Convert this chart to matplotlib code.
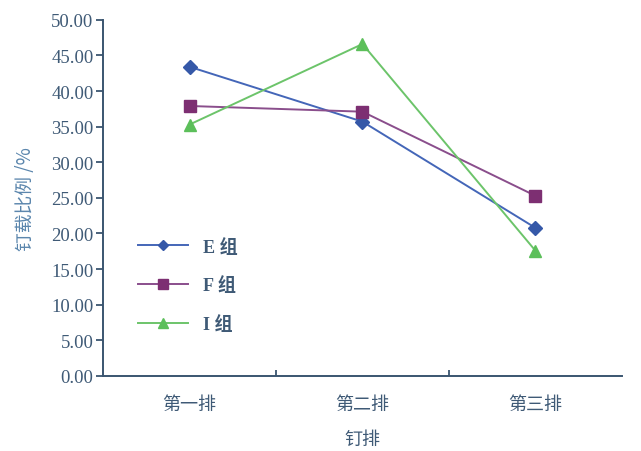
import matplotlib
matplotlib.use("Agg")
import matplotlib.pyplot as plt
import numpy as np

plt.rcParams['font.family'] = ['Liberation Serif', 'Noto Sans CJK SC', 'DejaVu Sans']

# data
rows = ['第一排', '第二排', '第三排']
e_vals = [43.4, 35.7, 20.8]
f_vals = [37.9, 37.1, 25.3]
i_vals = [35.3, 46.6, 17.6]
yticks = np.arange(0, 50.01, 5)

axis_col = '#3a5570'
text_col = '#3f5a76'
label_col = '#5b86ad'

fig = plt.figure(figsize=(6.41, 4.52), dpi=100)
ax = fig.add_axes([0.161, 0.166, 0.809, 0.788])

x = np.arange(len(rows))
ax.plot(x, e_vals, color='#4466b8', lw=1.4, marker='D', ms=7, mfc='#3558a8', mec='#3558a8', label='E 组')
ax.plot(x, f_vals, color='#8a4e8c', lw=1.4, marker='s', ms=9, mfc='#7d2f72', mec='#7d2f72', label='F 组')
ax.plot(x, i_vals, color='#6cc46a', lw=1.4, marker='^', ms=9, mfc='#5cbf5a', mec='#5cbf5a', label='I 组')

ax.set_xlim(-0.5, 2.5)
ax.set_ylim(0, 50)
ax.set_yticks(yticks)
ax.set_yticklabels([f'{v:.2f}' for v in yticks], fontsize=13.5, color=text_col)
ax.set_xticks(x)
ax.set_xticklabels(rows, fontsize=13, color=text_col, family=['Noto Sans CJK SC'])
ax.tick_params(axis='x', length=0, pad=14)
ax.tick_params(axis='y', length=5, width=1.3, color=axis_col, direction='out', pad=2)
ax.set_xticks([0.5, 1.5], minor=True)
ax.tick_params(axis='x', which='minor', length=4, width=1.3, color=axis_col, direction='in')

for s in ['top', 'right']:
    ax.spines[s].set_visible(False)
for s in ['left', 'bottom']:
    ax.spines[s].set_color(axis_col)
    ax.spines[s].set_linewidth(1.4)

ax.set_ylabel('钉载比例 /%', fontsize=13.5, color=label_col, family=['Noto Sans CJK SC'], labelpad=11)
ax.set_xlabel('钉排', fontsize=13, color=text_col, family=['Noto Sans CJK SC'], labelpad=12)

leg = ax.legend(loc='lower left', bbox_to_anchor=(0.035, 0.075), frameon=False, markerscale=0.75,
                handlelength=2.8, labelspacing=1.15,
                prop={'family': ['Liberation Serif', 'Noto Sans CJK SC'], 'size': 13, 'weight': 'bold'})
for t in leg.get_texts():
    t.set_color(text_col)

fig.savefig('out.png', dpi=100)
